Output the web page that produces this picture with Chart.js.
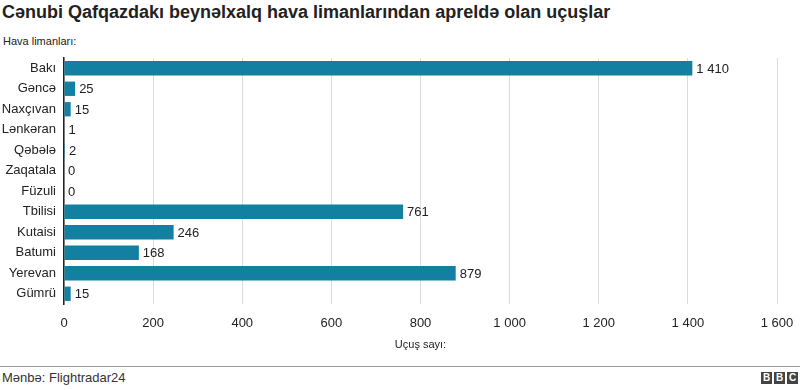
<!DOCTYPE html>
<html>
<head>
<meta charset="utf-8">
<script src="https://cdn.jsdelivr.net/npm/chart.js@4"></script>
<style>
  body { margin: 0; width: 800px; height: 390px; background: #fff; font-family: "Liberation Sans", Arial, sans-serif; overflow: hidden; position: relative; }
  #title { position: absolute; left: 2px; top: 2px; font-size: 18px; font-weight: bold; color: #222; white-space: nowrap; }
  #sub { position: absolute; left: 3px; top: 35px; font-size: 11px; color: #222; }
  #wrap { position: absolute; left: 0; top: 50px; width: 800px; height: 304px; }
  #foot { position: absolute; left: 0; top: 366px; width: 800px; border-top: 1px solid #999; }
  #src { position: absolute; left: 2px; top: 370px; font-size: 13px; color: #333; }
  #bbc { position: absolute; right: 2px; top: 372px; display: flex; gap: 2px; }
  #bbc span { display: block; width: 11px; height: 12px; background: #444; color: #fff; font-size: 10px; font-weight: bold; line-height: 12px; text-align: center; }
</style>
</head>
<body>
<div id="title">Cənubi Qafqazdakı beynəlxalq hava limanlarından apreldə olan uçuşlar</div>
<div id="sub">Hava limanları:</div>
<div id="wrap"><canvas id="chart"></canvas></div>
<div id="foot"></div>
<div id="src">Mənbə: Flightradar24</div>
<div id="bbc"><span>B</span><span>B</span><span>C</span></div>
<script>
// hava limanları və uçuş sayı
const airports = ["Bakı", "Gəncə", "Naxçıvan", "Lənkəran", "Qəbələ", "Zaqatala", "Füzuli", "Tbilisi", "Kutaisi", "Batumi", "Yerevan", "Gümrü"];
const flights = [1410, 25, 15, 1, 2, 0, 0, 761, 246, 168, 879, 15];
const xTicks = [0, 200, 400, 600, 800, 1000, 1200, 1400, 1600];

const fmt = (v) => String(v).replace(/\B(?=(\d{3})+(?!\d))/g, " ");

// rəqəmləri zolaqların yanında yaz
const valueLabels = {
  id: "valueLabels",
  afterDatasetsDraw(chart) {
    const ctx = chart.ctx;
    const meta = chart.getDatasetMeta(0);
    ctx.save();
    ctx.font = "13px 'Liberation Sans', Arial, sans-serif";
    ctx.fillStyle = "#222";
    ctx.textBaseline = "middle";
    ctx.textAlign = "left";
    meta.data.forEach((bar, i) => {
      ctx.fillText(fmt(flights[i]), bar.x + 4, bar.y + 1);
    });
    ctx.restore();
  }
};

new Chart(document.getElementById("chart"), {
  type: "bar",
  data: {
    labels: airports,
    datasets: [{
      data: flights,
      backgroundColor: "#1380A1",
      barPercentage: 0.7,
      categoryPercentage: 1
    }]
  },
  options: {
    indexAxis: "y",
    responsive: true,
    maintainAspectRatio: false,
    animation: false,
    layout: { padding: { top: 8, right: 23, left: 0, bottom: 0 } },
    plugins: { legend: { display: false }, tooltip: { enabled: false } },
    scales: {
      x: {
        min: 0, max: 1600,
        afterBuildTicks: (s) => { s.ticks = xTicks.map(v => ({ value: v })); },
        afterFit: (s) => { s.height = 50; s.paddingLeft = 0; s.paddingRight = 0; },
        grid: { color: "#dcdcdc", drawTicks: false },
        border: { display: false },
        ticks: { padding: 12, color: "#222", font: { family: "'Liberation Sans', Arial", size: 13 }, callback: (v) => fmt(v), maxRotation: 0 },
        title: { display: true, text: "Uçuş sayı:", color: "#222", padding: { top: 0, bottom: 2 }, font: { family: "'Liberation Sans', Arial", size: 11 } }
      },
      y: {
        afterFit: (s) => { s.width = 64; s.paddingTop = 0; s.paddingBottom = 0; },
        grid: { display: false, drawTicks: false },
        border: { display: true, color: "#222", width: 1.5 },
        ticks: { padding: 8, color: "#222", font: { family: "'Liberation Sans', Arial", size: 13 } }
      }
    }
  },
  plugins: [valueLabels]
});
</script>
</body>
</html>
